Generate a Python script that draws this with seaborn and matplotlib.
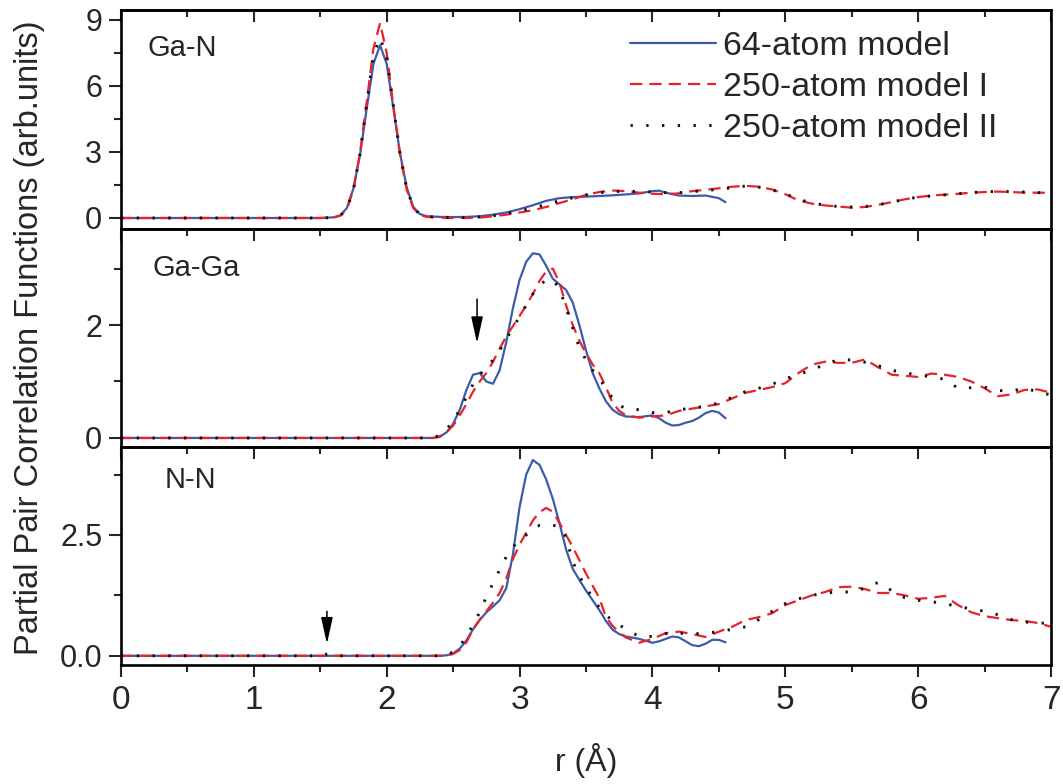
import numpy as np
import matplotlib
matplotlib.use("Agg")
import matplotlib.pyplot as plt
from matplotlib.ticker import MultipleLocator, FixedLocator
import seaborn as sns

# ---------------- data ----------------
# Ga-N panel
gan_r64 = [0, 0.5, 1.0, 1.5, 1.6, 1.65, 1.7, 1.75, 1.8, 1.85, 1.9, 1.95, 2.0, 2.05, 2.1, 2.15, 2.2, 2.25, 2.3,
           2.4, 2.5, 2.6, 2.7, 2.8, 2.9, 3.0, 3.1, 3.2, 3.3, 3.4, 3.5, 3.6, 3.7, 3.8, 3.9, 4.0, 4.05, 4.1, 4.2,
           4.3, 4.4, 4.5, 4.55]
gan_g64 = [0, 0, 0, 0, 0.03, 0.12, 0.45, 1.35, 2.9, 5.0, 7.0, 7.85, 7.0, 5.0, 2.95, 1.4, 0.5, 0.18, 0.08,
           0.05, 0.04, 0.05, 0.08, 0.15, 0.25, 0.4, 0.58, 0.78, 0.9, 0.95, 0.97, 1.0, 1.03, 1.07, 1.12, 1.22, 1.24,
           1.15, 1.02, 1.0, 1.02, 0.9, 0.72]
gan_r250 = [0, 0.5, 1.0, 1.5, 1.6, 1.65, 1.7, 1.75, 1.8, 1.85, 1.9, 1.95, 2.0, 2.05, 2.1, 2.15, 2.2, 2.25, 2.3,
            2.4, 2.5, 2.6, 2.7, 2.8, 2.9, 3.0, 3.1, 3.2, 3.3, 3.4, 3.5, 3.6, 3.7, 3.8, 3.9, 4.0, 4.1, 4.2, 4.3,
            4.4, 4.5, 4.6, 4.7, 4.8, 4.9, 5.0, 5.1, 5.2, 5.3, 5.4, 5.5, 5.6, 5.7, 5.8, 5.9, 6.0, 6.1, 6.2, 6.3,
            6.4, 6.5, 6.6, 6.7, 6.8, 6.9, 7.0]
gan_g250a = [0, 0, 0, 0, 0.02, 0.1, 0.4, 1.3, 3.0, 5.3, 7.7, 8.86, 7.5, 5.1, 2.9, 1.3, 0.45, 0.15, 0.05,
             0.02, 0.0, 0.0, 0.02, 0.08, 0.15, 0.25, 0.35, 0.5, 0.68, 0.85, 1.05, 1.18, 1.25, 1.22, 1.15, 1.1,
             1.08, 1.12, 1.22, 1.28, 1.35, 1.42, 1.46, 1.42, 1.3, 1.08, 0.8, 0.65, 0.57, 0.52, 0.47, 0.5, 0.6,
             0.72, 0.85, 0.95, 1.02, 1.06, 1.1, 1.15, 1.18, 1.2, 1.18, 1.15, 1.15, 1.15]
gan_g250b = [0, 0, 0, 0, 0.02, 0.1, 0.42, 1.3, 2.95, 5.2, 7.4, 8.2, 7.3, 5.1, 2.95, 1.35, 0.48, 0.16, 0.06,
             0.04, 0.02, 0.02, 0.05, 0.1, 0.2, 0.32, 0.45, 0.62, 0.78, 0.92, 1.05, 1.15, 1.2, 1.22, 1.2, 1.18,
             1.15, 1.15, 1.2, 1.25, 1.3, 1.38, 1.45, 1.4, 1.28, 1.1, 0.85, 0.68, 0.58, 0.52, 0.5, 0.52, 0.6,
             0.72, 0.85, 0.95, 1.0, 1.05, 1.1, 1.15, 1.2, 1.2, 1.2, 1.18, 1.15, 1.15]

# Ga-Ga panel
gaga_r64 = [0, 0.5, 1.0, 1.5, 2.0, 2.3, 2.35, 2.4, 2.45, 2.5, 2.55, 2.6, 2.65, 2.7, 2.75, 2.8, 2.85, 2.9, 2.95,
            3.0, 3.05, 3.1, 3.15, 3.2, 3.25, 3.3, 3.35, 3.4, 3.45, 3.5, 3.55, 3.6, 3.65, 3.7, 3.75, 3.8, 3.9,
            4.0, 4.05, 4.1, 4.15, 4.2, 4.25, 4.3, 4.35, 4.4, 4.45, 4.5, 4.55]
gaga_g64 = [0, 0, 0, 0, 0, 0, 0.0, 0.02, 0.1, 0.25, 0.5, 0.85, 1.12, 1.15, 1.0, 0.96, 1.2, 1.7, 2.3,
            2.8, 3.12, 3.27, 3.25, 3.05, 2.82, 2.72, 2.62, 2.4, 2.0, 1.55, 1.15, 0.88, 0.65, 0.5, 0.42, 0.38, 0.37,
            0.4, 0.35, 0.27, 0.22, 0.23, 0.27, 0.3, 0.36, 0.44, 0.48, 0.45, 0.35]
gaga_r250 = [0, 0.5, 1.0, 1.5, 2.0, 2.3, 2.35, 2.4, 2.45, 2.5, 2.55, 2.6, 2.65, 2.7, 2.75, 2.8, 2.85, 2.9, 2.95,
             3.0, 3.05, 3.1, 3.15, 3.2, 3.25, 3.3, 3.35, 3.4, 3.45, 3.5, 3.55, 3.6, 3.65, 3.7, 3.75, 3.8, 3.9,
             4.0, 4.1, 4.2, 4.3, 4.4, 4.5, 4.6, 4.7, 4.8, 4.9, 5.0, 5.1, 5.2, 5.3, 5.4, 5.5, 5.6, 5.7, 5.8,
             5.9, 6.0, 6.1, 6.2, 6.3, 6.4, 6.5, 6.6, 6.7, 6.8, 6.9, 7.0]
gaga_g250a = [0, 0, 0, 0, 0, 0, 0.0, 0.03, 0.1, 0.22, 0.4, 0.6, 0.82, 1.0, 1.15, 1.35, 1.58, 1.8, 1.98,
              2.16, 2.35, 2.55, 2.78, 2.95, 3.0, 2.75, 2.35, 2.0, 1.72, 1.5, 1.3, 1.15, 0.9, 0.62, 0.48, 0.4, 0.36,
              0.38, 0.4, 0.48, 0.52, 0.56, 0.6, 0.7, 0.8, 0.85, 0.9, 0.97, 1.15, 1.3, 1.35, 1.33, 1.33, 1.39,
              1.25, 1.12, 1.1, 1.08, 1.14, 1.12, 1.08, 1.0, 0.88, 0.74, 0.77, 0.85, 0.86, 0.8]
gaga_g250b = [0, 0, 0, 0, 0, 0, 0.0, 0.05, 0.15, 0.3, 0.5, 0.72, 0.95, 1.12, 1.25, 1.38, 1.55, 1.75, 1.95,
              2.15, 2.35, 2.55, 2.7, 2.8, 2.8, 2.65, 2.3, 1.95, 1.6, 1.38, 1.2, 1.05, 0.88, 0.7, 0.58, 0.52, 0.5,
              0.45, 0.45, 0.5, 0.53, 0.56, 0.62, 0.72, 0.82, 0.88, 0.95, 1.05, 1.12, 1.21, 1.3, 1.39, 1.38,
              1.34, 1.28, 1.2, 1.15, 1.12, 1.08, 1.04, 0.88, 0.89, 0.9, 0.84, 0.83, 0.88, 0.82, 0.76]

# N-N panel
nn_r64 = [0, 0.5, 1.0, 1.5, 2.0, 2.4, 2.45, 2.5, 2.55, 2.6, 2.65, 2.7, 2.75, 2.8, 2.85, 2.9, 2.95, 3.0, 3.05,
          3.1, 3.15, 3.2, 3.25, 3.3, 3.35, 3.4, 3.45, 3.5, 3.55, 3.6, 3.65, 3.7, 3.75, 3.8, 3.9, 4.0, 4.05,
          4.1, 4.15, 4.2, 4.25, 4.3, 4.35, 4.4, 4.45, 4.5, 4.55]
nn_g64 = [0, 0, 0, 0, 0, 0, 0.01, 0.05, 0.15, 0.32, 0.55, 0.74, 0.9, 1.02, 1.15, 1.4, 2.1, 3.08, 3.75,
          4.05, 3.95, 3.65, 3.25, 2.75, 2.2, 1.8, 1.57, 1.35, 1.15, 0.95, 0.72, 0.54, 0.45, 0.4, 0.35, 0.27, 0.3,
          0.35, 0.4, 0.38, 0.3, 0.22, 0.2, 0.25, 0.33, 0.33, 0.28]
nn_r250 = [0, 0.5, 1.0, 1.45, 1.5, 1.55, 1.6, 1.65, 2.0, 2.4, 2.45, 2.5, 2.55, 2.6, 2.65, 2.7, 2.75, 2.8, 2.85,
           2.9, 2.95, 3.0, 3.05, 3.1, 3.15, 3.2, 3.25, 3.3, 3.35, 3.4, 3.45, 3.5, 3.55, 3.6, 3.65, 3.7, 3.75,
           3.8, 3.9, 4.0, 4.1, 4.2, 4.3, 4.4, 4.5, 4.6, 4.7, 4.8, 4.9, 5.0, 5.1, 5.2, 5.3, 5.4, 5.5, 5.6, 5.7,
           5.8, 5.9, 6.0, 6.1, 6.2, 6.3, 6.4, 6.5, 6.6, 6.7, 6.8, 6.9, 7.0]
nn_g250a = [0, 0, 0, 0, 0, 0, 0, 0, 0, 0, 0.0, 0.04, 0.12, 0.28, 0.55, 0.75, 0.92, 1.1, 1.3,
            1.6, 2.0, 2.3, 2.55, 2.8, 2.97, 3.06, 2.98, 2.75, 2.5, 2.25, 1.98, 1.7, 1.45, 1.2, 0.8, 0.62, 0.48,
            0.38, 0.27, 0.35, 0.47, 0.5, 0.45, 0.39, 0.5, 0.6, 0.74, 0.8, 0.88, 1.05, 1.15, 1.25, 1.32, 1.42,
            1.43, 1.38, 1.3, 1.3, 1.25, 1.18, 1.2, 1.24, 1.05, 0.9, 0.82, 0.78, 0.74, 0.72, 0.68, 0.6]
nn_g250b = [0, 0, 0, 0, 0.06, 0.03, 0.05, 0, 0, 0, 0.02, 0.08, 0.2, 0.4, 0.65, 0.9, 1.22, 1.5, 1.78,
            2.05, 2.25, 2.4, 2.5, 2.62, 2.7, 2.72, 2.7, 2.68, 2.45, 1.95, 1.65, 1.42, 1.2, 1.0, 0.85, 0.72, 0.64,
            0.55, 0.4, 0.4, 0.46, 0.47, 0.45, 0.47, 0.5, 0.55, 0.6, 0.75, 0.92, 1.08, 1.18, 1.25, 1.3, 1.32,
            1.32, 1.4, 1.52, 1.35, 1.2, 1.15, 1.12, 1.08, 1.02, 0.97, 0.92, 0.85, 0.75, 0.7, 0.68, 0.67]

panel_names = ["Ga-N", "Ga-Ga", "N-N"]
series_labels = ["64-atom model", "250-atom model I", "250-atom model II"]
x_ticks = [0, 1, 2, 3, 4, 5, 6, 7]

# ---------------- style ----------------
sns.set_theme(style="ticks")
plt.rcParams["font.family"] = ["Liberation Sans", "DejaVu Sans"]
plt.rcParams["axes.linewidth"] = 1.9
plt.rcParams["axes.edgecolor"] = "black"

BLUE = "#3b5cab"
RED = "#e8212b"
BLACK = "#111111"
LW = 1.6

fig = plt.figure(figsize=(10.63, 7.84), dpi=100)
L, W = 121 / 1063, (1051 - 121) / 1063
def yfrac(px):
    return 1 - px / 784

pos = [(yfrac(229), yfrac(10)), (yfrac(447), yfrac(229)), (yfrac(665), yfrac(447))]
axes = [fig.add_axes([L, b, W, t - b]) for (b, t) in pos]

data = [
    (gan_r64, gan_g64, gan_r250, gan_g250a, gan_g250b),
    (gaga_r64, gaga_g64, gaga_r250, gaga_g250a, gaga_g250b),
    (nn_r64, nn_g64, nn_r250, nn_g250a, nn_g250b),
]
ylims = [(-0.5, 9.45), (-0.16, 3.7), (-0.19, 4.32)]
ymajor = [[0, 3, 6, 9], [0, 2], [0.0, 2.5]]
yminor = [[1.5, 4.5, 7.5], [1, 3], [1.25, 3.75]]
yfmt = ["{:.0f}", "{:.0f}", "{:.1f}"]
label_pos = [(0.029, 0.826), (0.034, 0.82), (0.047, 0.85)]

FS = 22
for i, ax in enumerate(axes):
    r64, g64, r250, ga, gb = data[i]
    sns.lineplot(x=r64, y=g64, ax=ax, color=BLUE, linewidth=LW, linestyle="-",
                 label=series_labels[0], errorbar=None, sort=False)
    sns.lineplot(x=r250, y=ga, ax=ax, color=RED, linewidth=LW, linestyle=(0, (5.5, 3.2)),
                 label=series_labels[1], errorbar=None, sort=False)
    sns.lineplot(x=r250, y=gb, ax=ax, color=BLACK, linewidth=2.1, linestyle=(0, (0.8, 4.6)),
                 label=series_labels[2], errorbar=None, sort=False)
    ax.set_xlim(0, 7)
    ax.set_ylim(*ylims[i])
    ax.set_xlabel("")
    ax.set_ylabel("")
    ax.yaxis.set_major_locator(FixedLocator(ymajor[i]))
    ax.yaxis.set_minor_locator(FixedLocator(yminor[i]))
    ax.set_yticklabels([yfmt[i].format(v) for v in ymajor[i]])
    ax.tick_params(axis="y", which="major", direction="out", length=8.5, width=1.5,
                   labelsize=FS, pad=5, left=True, right=False)
    ax.tick_params(axis="y", which="minor", direction="out", length=5, width=1.5, left=True, right=False)
    ax.xaxis.set_major_locator(FixedLocator(x_ticks))
    ax.xaxis.set_minor_locator(MultipleLocator(0.5))
    if i < 2:
        ax.tick_params(axis="x", which="both", bottom=False, top=False, labelbottom=False)
    else:
        ax.tick_params(axis="x", which="major", direction="out", length=8.5, width=1.5,
                       labelsize=FS + 2, pad=6, bottom=True, top=False)
        ax.tick_params(axis="x", which="minor", direction="out", length=5, width=1.5,
                       bottom=True, top=False)
    sec = ax.secondary_xaxis("top")
    sec.xaxis.set_major_locator(FixedLocator(x_ticks))
    sec.xaxis.set_minor_locator(MultipleLocator(0.5))
    sec.tick_params(axis="x", which="major", direction="in", length=8.5, width=1.5, labeltop=False)
    sec.tick_params(axis="x", which="minor", direction="in", length=5, width=1.5)
    sec.spines["top"].set_linewidth(1.9)
    for s in ax.spines.values():
        s.set_visible(True)
        s.set_linewidth(1.9)
    ax.text(label_pos[i][0], label_pos[i][1], panel_names[i], transform=ax.transAxes,
            fontsize=21, va="center", ha="left")
    if i == 0:
        h, l = ax.get_legend_handles_labels()
        ax.legend(h, l, loc="upper left", bbox_to_anchor=(0.547, 0.903), frameon=False,
                  fontsize=24.5, handlelength=2.55, handletextpad=0.2, labelspacing=0.29,
                  borderpad=0, borderaxespad=0)
    else:
        lg = ax.get_legend()
        if lg is not None:
            lg.remove()

# arrows
arrow_kw = dict(arrowstyle="-|>,head_width=0.2,head_length=0.9", color="black", lw=1.1,
                mutation_scale=18, shrinkA=0, shrinkB=0)
axes[1].annotate("", xy=(2.68, 1.68), xytext=(2.68, 2.46), arrowprops=arrow_kw)
axes[2].annotate("", xy=(1.55, 0.25), xytext=(1.55, 0.92), arrowprops=arrow_kw)

fig.text(0.028, yfrac(338), "Partial Pair Correlation Functions (arb.units)", rotation=90,
         fontsize=23.5, ha="center", va="center")
fig.text((121 + 1051) / 2 / 1063, yfrac(760), "r (Å)", fontsize=FS + 1, ha="center", va="center")

fig.savefig("out.png", dpi=100)
